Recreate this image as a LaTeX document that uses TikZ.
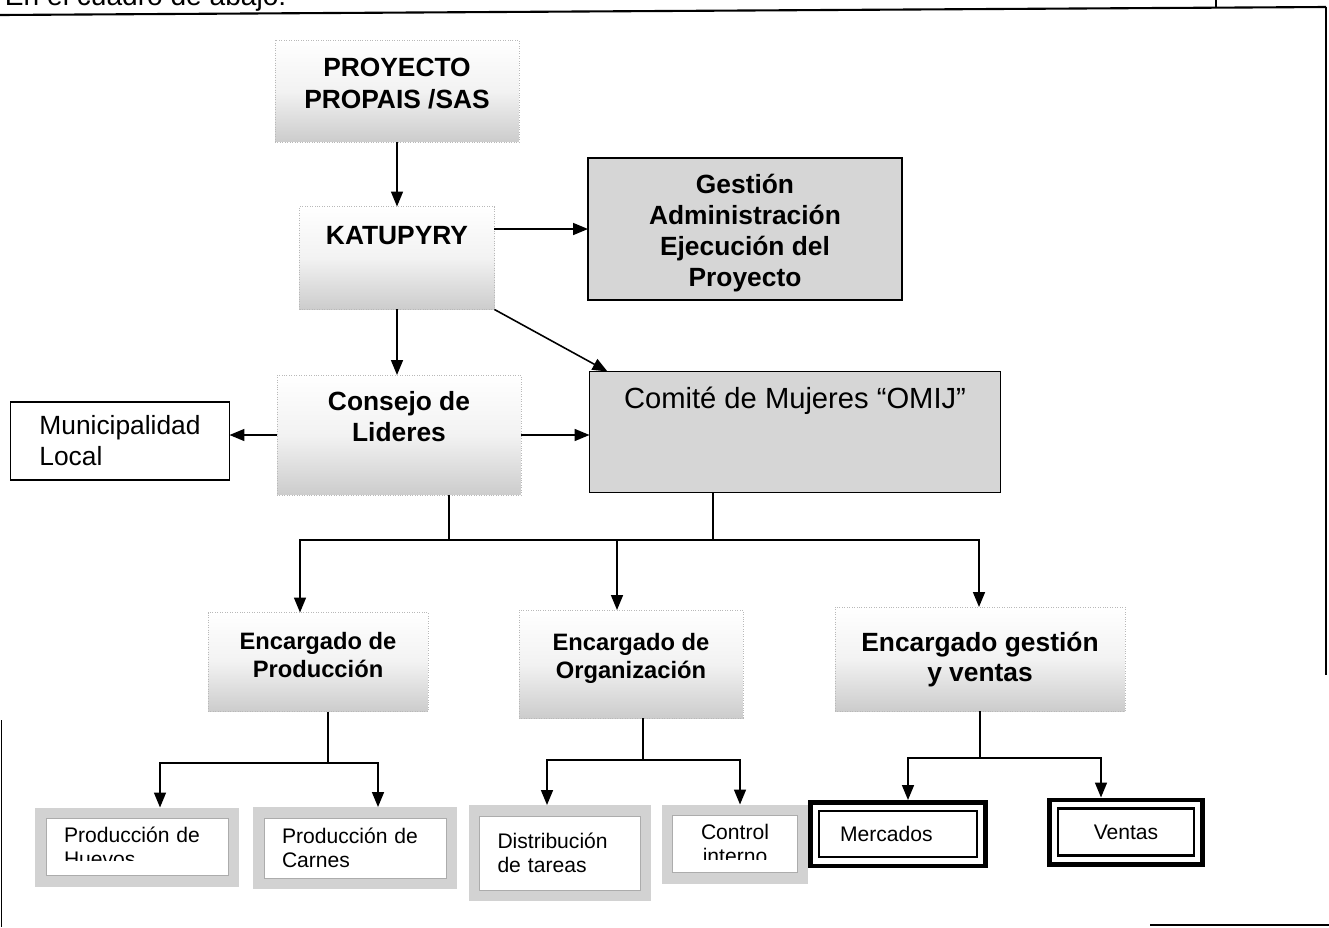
\documentclass[tikz,border=0pt]{standalone}
\usepackage{fontspec}
\setmainfont{Liberation Sans}
\usetikzlibrary{arrows.meta}

\newcommand{\boxtext}[5][\centering]{\parbox[c][#3][t]{#2}{#1\vspace*{#4}#5\par}}

\begin{document}
\begin{tikzpicture}[x=0.02cm, y=-0.02cm,
    every node/.style={inner sep=0pt, outer sep=0pt},
    softbox/.style={rectangle, draw=gray!55, densely dotted, top color=white, bottom color=gray!40, middle color=gray!10, font=\fontsize{15}{18}\selectfont\bfseries},
    darkbox/.style={rectangle, draw=black, line width=1pt, fill=gray!32, font=\fontsize{15}{17.6}\selectfont\bfseries},
    plainbox/.style={rectangle, draw=black, line width=0.8pt, fill=white, align=left, font=\fontsize{15}{17.6}\selectfont},
    taskbox/.style={rectangle, draw=gray!65, line width=0.5pt, fill=white, outer sep=0.22cm, preaction={draw=gray!35, line width=0.44cm}, font=\fontsize{12}{13.5}\selectfont},
    markbox/.style={rectangle, draw=black, line width=1.2pt, fill=white, outer sep=0.22cm, preaction={draw=black, line width=0.44cm}, preaction={draw=white, line width=0.26cm}, font=\fontsize{12}{13.5}\selectfont},
    tie/.style={line width=0.9pt},
    arr/.style={tie, -{Triangle[length=0.3cm, width=0.24cm]}},
    biarr/.style={tie, {Triangle[length=0.3cm, width=0.24cm]}-{Triangle[length=0.3cm, width=0.24cm]}}
]
\useasboundingbox (0,0) rectangle (1329,927);

% frame of the page
\node[anchor=base west, font=\fontsize{16}{19}\selectfont] (intro) at (5,5) {En el cuadro de abajo:};
\draw[line width=1.2pt] (0,15) -- (1326,7);
\draw[line width=0.7pt] (1326,7) -- (1326,675);
\draw[line width=0.6pt] (1216,0) -- (1216,7);
\draw[line width=0.6pt] (1.5,720) -- (1.5,927);
\draw[line width=1.2pt] (1150,925) -- (1329,925);

% upper part
\node[softbox] (proyecto) at (397,91) {\boxtext{4.88cm}{2.04cm}{0.36cm}{PROYECTO\\PROPAIS /SAS}};
\node[softbox] (katupyry) at (397,258) {\boxtext{3.9cm}{2.06cm}{0.4cm}{KATUPYRY}};
\node[darkbox] (gestion) at (745,229) {\boxtext{6.28cm}{2.84cm}{0.32cm}{Gestión\\Administración\\Ejecución del\\Proyecto}};
\node[softbox] (consejo) at (399,435) {\boxtext{4.88cm}{2.4cm}{0.32cm}{Consejo de\\Lideres}};
\node[darkbox, font=\fontsize{16.6}{20}\selectfont] (comite) at (795,432) {\boxtext{8.22cm}{2.42cm}{0.32cm}{Comité de Mujeres “OMIJ”}};
\node[plainbox, minimum width=4.38cm, minimum height=1.56cm] (municipal) at (120,441) {Municipalidad\\Local};

\draw[arr] (proyecto.south) -- (katupyry.north);
\draw[arr] (katupyry.east |- gestion.west) -- (gestion.west);
\draw[arr] (katupyry.south) -- (katupyry.south |- consejo.north);
\draw[arr] (katupyry.south east) -- ([xshift=0.36cm]comite.north west);
\draw[arr] (consejo.west) -- (consejo.west -| municipal.east);
\draw[arr] (consejo.east) -- (consejo.east -| comite.west);

% encargados
\node[softbox, font=\fontsize{13.5}{16}\selectfont\bfseries] (produccion) at (318,662) {\boxtext{4.4cm}{1.98cm}{0.4cm}{Encargado de\\Producción}};
\node[softbox, font=\fontsize{13.5}{16}\selectfont\bfseries] (organizacion) at (631,664) {\boxtext{4.48cm}{2.16cm}{0.46cm}{Encargado de\\Organización}};
\node[softbox, font=\fontsize{15}{17}\selectfont\bfseries] (ventasgestion) at (980,659) {\boxtext{5.8cm}{2.08cm}{0.5cm}{Encargado gestión\\y ventas}};

\coordinate (bus) at (0,540);
\coordinate (cL) at ([xshift=1cm]consejo.south);
\coordinate (cR) at ([xshift=-1.64cm]comite.south);
\coordinate (dropA) at (300,540);
\coordinate (dropB) at (617,540);
\coordinate (dropC) at (979,540);
\draw[tie] (cL) -- (cL |- bus);
\draw[tie] (cR) -- (cR |- bus);
\draw[biarr] (dropA |- produccion.north) -- (dropA) -- (dropC) -- (dropC |- ventasgestion.north);
\draw[arr] (dropB) -- (dropB |- organizacion.north);

% tareas
\node[taskbox, text width=2.92cm, inner xsep=0.36cm, minimum height=1.14cm, align=left] (huevos) at (137,847) {Producción de\\Huevos};
\node[taskbox, text width=2.92cm, inner xsep=0.36cm, minimum height=1.2cm, align=left] (carnes) at (355,848) {Producción de\\Carnes};
\node[taskbox, text width=2.5cm, inner xsep=0.36cm, minimum height=1.48cm, align=left] (distribucion) at (560,853) {Distribución\\de tareas};
\node[taskbox, minimum width=2.5cm, minimum height=1.14cm, align=center] (control) at (735,844) {Control\\interno};
\node[markbox, text width=2.32cm, inner xsep=0.42cm, minimum height=0.92cm, align=left] (mercados) at (898,834) {Mercados};
\node[markbox, minimum width=2.72cm, minimum height=0.94cm] (ventas) at (1126,832) {Ventas};

% text cut off at the bottom of two boxes
\fill[white] ([shift={(0.25cm,0.25cm)}]huevos.south west) rectangle ([shift={(-0.25cm,0.51cm)}]huevos.south east);
\fill[white] ([shift={(0.25cm,0.25cm)}]control.south west) rectangle ([shift={(-0.25cm,0.47cm)}]control.south east);

\foreach \n/\sx/\sy/\ax/\bx/\kl/\kr in {produccion/328/763/160/378/huevos/carnes, organizacion/643/760/547/740/distribucion/control, ventasgestion/980/758/908/1101/mercados/ventas}{
  \coordinate (stem) at (\sx,\sy);
  \coordinate (la) at (\ax,\sy);
  \coordinate (lb) at (\bx,\sy);
  \draw[tie] (\n.south -| stem) -- (stem);
  \draw[biarr] (la |- \kl.north) -- (la) -- (lb) -- (lb |- \kr.north);
}
\end{tikzpicture}
\end{document}
